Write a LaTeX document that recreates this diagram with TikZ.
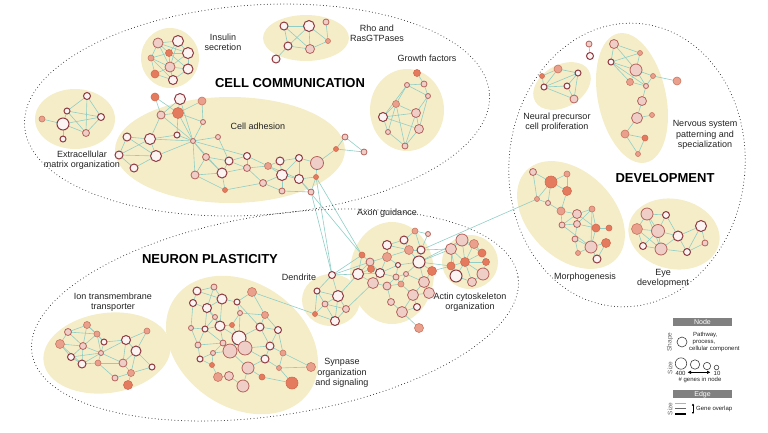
\documentclass[tikz,border=0pt]{standalone}
\usepackage{fontspec}
\setmainfont{Liberation Sans}
\usetikzlibrary{arrows.meta}
\pgfdeclarelayer{blob}\pgfdeclarelayer{edge}
\pgfsetlayers{blob,edge,main}
\definecolor{blobc}{HTML}{F5EDC8}
\definecolor{wfill}{HTML}{FCF3F3}
\definecolor{wdraw}{HTML}{8E3A40}
\definecolor{pfill}{HTML}{F0CEC8}
\definecolor{pdraw}{HTML}{B5625B}
\definecolor{sfill}{HTML}{E9A08C}
\definecolor{sdraw}{HTML}{CC7661}
\definecolor{rfill}{HTML}{E47B5E}
\definecolor{rdraw}{HTML}{D4694E}
\definecolor{edgec}{HTML}{8FCEC6}
\definecolor{txt}{HTML}{222222}
\definecolor{hdr}{HTML}{808080}
\newcommand\nd[5]{\node[#1,minimum size=#5*2pt] (#2) at (#3,#4) {};}
\newcommand\eds[1]{\begin{pgfonlayer}{edge}\foreach \ea/\eb in {#1} {\draw[edgel] (\ea) -- (\eb);}\end{pgfonlayer}}
\newcommand\blobe[5]{\begin{pgfonlayer}{blob}\fill[blobc, rotate around={#5:(#1,#2)}] (#1,#2) ellipse [x radius=#3pt, y radius=#4pt];\end{pgfonlayer}}
\tikzset{
  nb/.style={circle, inner sep=0pt, outer sep=0pt},
  wn/.style={nb, fill=wfill, draw=wdraw, line width=1pt},
  pn/.style={nb, fill=pfill, draw=pdraw, line width=0.8pt},
  sn/.style={nb, fill=sfill, draw=sdraw, line width=0.6pt},
  rn/.style={nb, fill=rfill, draw=rdraw, line width=0.6pt},
  edgel/.style={draw=edgec, line width=0.6pt},
  dotring/.style={draw=black!85, line width=1pt, line cap=round, dash pattern=on 0pt off 3.3pt},
  lbl/.style={align=center, text=txt, font=\fontsize{9}{10.3}\selectfont, inner sep=0pt},
  ttl/.style={text=black, font=\bfseries\fontsize{13}{15}\selectfont, inner sep=0pt},
  lgt/.style={text=txt, font=\fontsize{6}{6.6}\selectfont, inner sep=0pt, align=left},
  lgs/.style={text=black!60, font=\fontsize{6.5}{7}\selectfont, inner sep=0pt, rotate=90},
}
\begin{document}
\begin{tikzpicture}[x=1pt,y=-1pt]
\useasboundingbox (0,0) rectangle (768,432);
% ---------- cluster backgrounds
\blobe{170}{58}{29}{30}{0}
\blobe{306}{38}{43}{23}{0}
\blobe{407}{110}{37}{41}{0}
\blobe{75}{119}{40}{30}{0}
\blobe{230}{150}{115}{53}{0}
\blobe{562}{86}{31}{21}{30}
\blobe{632}{98}{34}{66}{12}
\blobe{571}{215}{63}{43}{-45}
\blobe{674}{234}{46}{35}{-12}
\blobe{107}{353}{64}{40}{8}
\blobe{242}{345}{82}{62}{-35}
\blobe{331}{300}{29}{26}{0}
\blobe{392}{273}{42}{51}{0}
\blobe{470}{262}{28}{27}{0}
% ---------- dotted group rings
\draw[dotring, rotate around={4:(257,110)}] (257,110) ellipse [x radius=233pt, y radius=105pt];
\draw[dotring, rotate around={9:(275,315)}] (275,315) ellipse [x radius=246pt, y radius=100pt];
\draw[dotring, rotate around={-5:(627,165)}] (627,165) ellipse [x radius=118pt, y radius=142pt];
% ---------- titles and labels
\node[ttl] (tcc) at (290,83) {CELL COMMUNICATION};
\node[ttl] (tnp) at (210,259) {NEURON PLASTICITY};
\node[ttl] (tdv) at (665,178) {DEVELOPMENT};
\node[lbl] (l1) at (223,42) {Insulin\\secretion};
\node[lbl] (l2) at (377,33) {Rho and\\RasGTPases};
\node[lbl] (l3) at (427,58) {Growth factors};
\node[lbl] (l4) at (258,126) {Cell adhesion};
\node[lbl] (l5) at (82,160) {Extracellular\\matrix organization};
\node[lbl] (l6) at (387,213) {Axon guidance};
\node[lbl] (l7) at (113,302) {Ion transmembrane\\transporter};
\node[lbl] (l8) at (299,277) {Dendrite};
\node[lbl] (l9) at (342,373) {Synpase\\organization\\and signaling};
\node[lbl] (l10) at (470,302) {Actin cytoskeleton\\organization};
\node[lbl] (l11) at (557,122) {Neural precursor\\cell proliferation};
\node[lbl] (l12) at (705,135) {Nervous system\\patterning and\\specialization};
\node[lbl] (l13) at (585,277) {Morphogenesis};
\node[lbl] (l14) at (663,278) {Eye\\development};
% ---------- Insulin secretion
\nd{pn}{I1}{158}{43}{5}\nd{wn}{I2}{178}{41}{5.5}\nd{rn}{I3}{169}{53}{3.5}
\nd{sn}{I4}{151}{58}{3}\nd{wn}{I5}{188}{53}{5.5}\nd{pn}{I6}{170}{67}{5}
\nd{wn}{I7}{188}{69}{5}\nd{rn}{I8}{155}{74}{4}\nd{wn}{I9}{173}{80}{4.5}
\eds{I1/I2,I1/I3,I1/I4,I1/I6,I2/I3,I2/I5,I3/I5,I3/I6,I3/I4,I4/I6,I4/I8,I5/I6,I5/I7,I6/I7,I6/I8,I6/I9,I7/I9,I8/I9,I3/I7,I1/I5,I2/I6,I4/I9}
% ---------- Cell adhesion upper
\nd{rn}{U1}{155}{97}{4}\nd{wn}{U2}{180}{99}{5.5}\nd{sn}{U3}{202}{101}{4}
\nd{pn}{U4}{161}{115}{4}\nd{rn}{U5}{178}{113}{5.5}\nd{pn}{U6}{203}{122}{2.5}
\nd{pn}{U7}{218}{137}{2.5}\nd{pn}{U8}{193}{141}{2.5}\nd{wn}{U9}{177}{135}{3}
\eds{U1/U4,U2/U5,U2/U4,U3/U5,U3/U6,U4/U5,U5/U6,U5/U8,U6/U8,U8/U7,U2/U8,U4/U8,U9/U8,U1/U5,U5/U9}
\nd{wn}{L1}{127}{137}{4}\nd{wn}{L2}{150}{139}{5.5}\nd{wn}{L3}{119}{155}{4}
\nd{wn}{L4}{156}{156}{5.5}\nd{wn}{L5}{134}{168}{4}
\eds{L1/L2,L1/L3,L1/L4,L2/L3,L2/L4,L3/L4,L3/L5,L4/L5,L2/U9,L2/U8,L4/U8,L2/U4}
\nd{pn}{B1}{195}{175}{4}\nd{pn}{B2}{206}{157}{3.5}\nd{wn}{B3}{222}{173}{5}
\nd{wn}{B4}{229}{161}{4}\nd{wn}{B5}{247}{156}{3.5}\nd{pn}{B6}{247}{168}{3.5}
\nd{rn}{B7}{225}{190}{2.5}\nd{pn}{B8}{263}{183}{3.5}\nd{sn}{B9}{268}{166}{3.5}
\nd{wn}{B10}{280}{161}{4}\nd{wn}{B11}{282}{175}{5.5}\nd{pn}{B12}{282}{191}{3}
\nd{wn}{B13}{299}{158}{3.5}\nd{wn}{B14}{299}{179}{4.5}\nd{pn}{B15}{311}{192}{3}
\nd{pn}{B16}{317}{163}{6.5}\nd{rn}{B17}{316}{177}{2.5}
\eds{U8/B2,U8/B1,U7/B4,U8/B3,B1/B2,B1/B3,B2/B3,B2/B4,B3/B4,B3/B6,B4/B5,B4/B6,B5/B6,B5/B9,B6/B8,B6/B9,B3/B7,B7/B8,B8/B11,B8/B12,B9/B10,B9/B11,B10/B11,B10/B13,B11/B14,B11/B12,B12/B15,B13/B14,B13/B16,B14/B15,B14/B17,B16/B17,B15/B17,B11/B13,B1/B7,B9/B14,U8/B5}
\nd{pn}{T1}{345}{137}{3}\nd{rn}{T2}{336}{149}{2.5}\nd{pn}{T3}{364}{152}{3}
\eds{T1/T2,T1/T3,T2/T3,T2/B16}
% ---------- ECM
\nd{wn}{E1}{87}{96}{3.5}\nd{wn}{E2}{67}{111}{3}\nd{wn}{E3}{101}{117}{3.5}
\nd{sn}{E4}{42}{119}{3}\nd{wn}{E5}{63}{124}{6}\nd{pn}{E6}{86}{133}{3.5}\nd{wn}{E7}{63}{139}{3}
\eds{E1/E2,E1/E3,E1/E6,E2/E3,E2/E5,E2/E6,E3/E5,E3/E6,E4/E5,E5/E6,E5/E7}
% ---------- Rho
\nd{wn}{R1}{284}{26}{4}\nd{wn}{R2}{309}{26}{5.5}\nd{pn}{R3}{326}{22}{3}
\nd{sn}{R4}{328}{41}{2.5}\nd{wn}{R5}{288}{46}{4}\nd{pn}{R6}{310}{49}{4.5}\nd{wn}{R7}{276}{59}{4}
\eds{R1/R2,R1/R5,R1/R6,R2/R5,R2/R6,R3/R4,R5/R6,R5/R7,R6/R4,R2/R4}
% ---------- Growth factors
\nd{rn}{G1}{417}{73}{3.5}\nd{pn}{G2}{424}{84}{3}\nd{pn}{G3}{407}{85}{2.5}
\nd{pn}{G4}{428}{96}{2.5}\nd{sn}{G5}{396}{104}{3.5}\nd{wn}{G6}{383}{117}{4.5}
\nd{pn}{G7}{416}{113}{4.5}\nd{pn}{G8}{419}{129}{4.5}\nd{pn}{G9}{388}{132}{2.5}\nd{pn}{G10}{405}{146}{3}
\eds{G1/G2,G2/G3,G3/G4,G2/G4,G3/G5,G4/G7,G5/G6,G5/G7,G5/G9,G5/G10,G6/G9,G6/G7,G7/G8,G6/G8,G8/G10,G9/G10,G7/G10,G3/G6,G4/G8}
% ---------- Neural precursor
\nd{sn}{N1}{558}{69}{4}\nd{rn}{N2}{542}{76}{2.5}\nd{wn}{N3}{578}{73}{3}
\nd{wn}{N4}{544}{87}{3}\nd{wn}{N5}{567}{86}{3}\nd{pn}{N6}{574}{99}{4}
\nd{pn}{N7}{589}{44}{3}\nd{wn}{N8}{590}{56}{3.5}
\eds{N1/N2,N1/N3,N2/N4,N1/N4,N3/N4,N3/N5,N4/N5,N3/N6,N5/N6,N7/N8,N4/N6}
% ---------- Nervous system
\nd{pn}{V1}{614}{44}{4.5}\nd{sn}{V2}{640}{53}{2.5}\nd{wn}{V3}{611}{62}{3}
\nd{pn}{V4}{636}{70}{6}\nd{sn}{V5}{653}{76}{2.5}\nd{sn}{V6}{630}{82}{3.5}
\nd{pn}{V7}{646}{86}{2.5}\nd{sn}{V8}{677}{81}{4}\nd{pn}{V9}{642}{101}{4.5}
\nd{pn}{V10}{637}{118}{5.5}\nd{sn}{V11}{652}{115}{2.5}\nd{sn}{V12}{625}{134}{4}
\nd{rn}{V13}{645}{138}{3}\nd{sn}{V14}{638}{154}{2.5}
\eds{V1/V2,V1/V3,V1/V4,V2/V3,V2/V4,V3/V4,V3/V6,V4/V5,V4/V6,V4/V7,V5/V7,V5/V8,V6/V7,V7/V9,V9/V10,V10/V11,V10/V12,V12/V13,V13/V14,V12/V14,V3/V7}
% ---------- Morphogenesis
\nd{pn}{M1}{533}{172}{3.5}\nd{rn}{M2}{551}{182}{6}\nd{sn}{M3}{567}{174}{3}
\nd{rn}{M4}{567}{191}{4.5}\nd{sn}{M5}{537}{199}{2.5}\nd{pn}{M6}{548}{203}{2.5}
\nd{sn}{M7}{561}{211}{4}\nd{pn}{M8}{577}{214}{4.5}\nd{sn}{M9}{592}{209}{3}
\nd{pn}{M10}{562}{225}{3}\nd{pn}{M11}{577}{224}{3.5}\nd{rn}{M12}{596}{228}{4}
\nd{rn}{M13}{609}{228}{3}\nd{pn}{M14}{575}{239}{3}\nd{pn}{M15}{591}{247}{6}
\nd{rn}{M16}{606}{243}{4.5}\nd{sn}{M17}{578}{253}{2.5}\nd{wn}{M18}{597}{259}{4}
\eds{M1/M2,M1/M5,M2/M3,M2/M4,M2/M5,M2/M6,M3/M4,M5/M6,M6/M7,M7/M8,M7/M10,M8/M9,M8/M10,M8/M11,M8/M12,M9/M12,M9/M11,M10/M11,M11/M12,M11/M14,M12/M13,M12/M15,M14/M15,M15/M16,M15/M17,M15/M18,M16/M18,M14/M17,M9/M15,M10/M15,M4/M7}
% ---------- Eye development
\nd{pn}{Y1}{647}{214}{6}\nd{wn}{Y2}{666}{215}{3.5}\nd{wn}{Y3}{701}{226}{5.5}
\nd{sn}{Y4}{637}{229}{5.5}\nd{pn}{Y5}{658}{231}{6.5}\nd{wn}{Y6}{678}{236}{5}
\nd{pn}{Y7}{705}{243}{3}\nd{wn}{Y8}{643}{246}{3.5}\nd{pn}{Y9}{661}{249}{6}\nd{wn}{Y10}{687}{252}{3.5}
\eds{Y1/Y2,Y1/Y4,Y1/Y5,Y1/Y9,Y2/Y5,Y2/Y6,Y4/Y5,Y4/Y8,Y4/Y9,Y5/Y6,Y5/Y8,Y5/Y9,Y6/Y3,Y6/Y9,Y6/Y10,Y3/Y7,Y7/Y10,Y8/Y9,Y9/Y10,Y3/Y10}
% ---------- Dendrite
\nd{wn}{D1}{332}{275}{3.5}\nd{wn}{D2}{317}{291}{3}\nd{wn}{D3}{338}{296}{5.5}
\nd{pn}{D4}{325}{304}{3}\nd{pn}{D5}{346}{309}{3.5}\nd{rn}{D6}{315}{314}{2.5}\nd{wn}{D7}{335}{321}{4.5}
\eds{D1/D2,D1/D3,D2/D3,D2/D4,D3/D4,D3/D5,D4/D6,D4/D7,D5/D7,D6/D7,D3/D7,D2/D6,D4/D5}
% ---------- Axon guidance
\nd{sn}{A1}{415}{231}{3}\nd{pn}{A2}{428}{234}{2.5}\nd{wn}{A3}{404}{240}{4}
\nd{wn}{A4}{387}{245}{4.5}\nd{sn}{A5}{409}{250}{4.5}\nd{wn}{A6}{421}{250}{4}
\nd{rn}{A7}{362}{255}{3}\nd{sn}{A8}{387}{257}{4.5}\nd{pn}{A9}{370}{262}{4}
\nd{wn}{A10}{419}{262}{6}\nd{wn}{A11}{398}{265}{2.5}\nd{rn}{A12}{371}{269}{3.5}
\nd{wn}{A13}{358}{274}{5.5}\nd{wn}{A14}{380}{273}{4.5}\nd{pn}{A15}{406}{274}{2.5}
\nd{rn}{A16}{432}{271}{4.5}\nd{pn}{A17}{396}{277}{3}\nd{pn}{A18}{373}{283}{5.5}
\nd{pn}{A19}{387}{286}{4}\nd{sn}{A20}{401}{284}{3}\nd{pn}{A21}{424}{282}{5.5}
\nd{pn}{A22}{413}{295}{5.5}\nd{pn}{A23}{429}{293}{5.5}\nd{pn}{A24}{391}{302}{3.5}
\nd{wn}{A25}{417}{307}{3.5}\nd{pn}{A26}{402}{312}{5.5}\nd{sn}{A27}{419}{328}{4.5}
\eds{A1/A2,A1/A3,A1/A6,A2/A6,A3/A5,A3/A4,A4/A8,A4/A5,A5/A6,A5/A10,A6/A10,A7/A9,A7/A13,A8/A9,A8/A11,A8/A14,A9/A12,A9/A13,A10/A11,A10/A15,A10/A16,A10/A21,A11/A14,A11/A17,A12/A13,A12/A14,A13/A18,A14/A17,A14/A18,A15/A17,A15/A20,A17/A19,A17/A20,A18/A19,A19/A24,A20/A22,A21/A22,A21/A23,A22/A23,A22/A25,A22/A26,A24/A26,A25/A26,A26/A27,A19/A20,A16/A21,A13/A14,A8/A5,A9/A14,A15/A21}
% ---------- Actin cytoskeleton
\nd{pn}{C1}{462}{240}{6}\nd{sn}{C2}{474}{244}{4.5}\nd{pn}{C3}{451}{249}{5.5}
\nd{rn}{C4}{482}{253}{4}\nd{rn}{C5}{465}{262}{4.5}\nd{rn}{C6}{451}{266}{4}
\nd{rn}{C7}{486}{262}{3.5}\nd{wn}{C8}{456}{276}{6}\nd{pn}{C9}{483}{274}{6}\nd{pn}{C10}{472}{282}{4.5}
\eds{C1/C2,C1/C3,C1/C5,C2/C4,C2/C5,C3/C5,C3/C6,C4/C5,C4/C7,C5/C6,C5/C7,C5/C8,C5/C9,C6/C8,C7/C9,C8/C10,C9/C10,C5/C10,C3/C8,C1/C4}
% ---------- Ion transmembrane transporter
\nd{sn}{J1}{87}{325}{3.5}\nd{pn}{J2}{68}{332}{3.5}\nd{sn}{J3}{97}{334}{3}
\nd{sn}{J4}{60}{344}{4.5}\nd{pn}{J5}{83}{346}{3.5}\nd{wn}{J6}{104}{342}{3}
\nd{wn}{J7}{126}{340}{4.5}\nd{sn}{J8}{147}{331}{3}\nd{wn}{J9}{71}{357}{3.5}
\nd{pn}{J10}{101}{353}{2.5}\nd{wn}{J11}{136}{351}{5}\nd{wn}{J12}{82}{364}{4}
\nd{sn}{J13}{98}{363}{3}\nd{pn}{J14}{123}{363}{4}\nd{wn}{J15}{152}{367}{3}
\nd{sn}{J16}{131}{373}{3.5}\nd{pn}{J17}{115}{378}{3}\nd{rn}{J18}{128}{385}{4.5}
\eds{J1/J2,J1/J3,J1/J5,J2/J4,J2/J5,J2/J3,J3/J5,J3/J6,J4/J5,J4/J9,J5/J9,J5/J10,J5/J12,J6/J7,J6/J10,J7/J11,J7/J8,J8/J11,J9/J12,J10/J13,J10/J14,J11/J14,J11/J15,J12/J13,J13/J14,J13/J17,J14/J16,J14/J7,J15/J16,J16/J17,J16/J18,J16/J11,J4/J12,J1/J6,J10/J7,J3/J10,J9/J10,J12/J10}
% ---------- Synapse organization and signaling
\nd{wn}{S1}{197}{291}{4}\nd{pn}{S2}{214}{287}{3}\nd{sn}{S3}{252}{292}{4.5}
\nd{wn}{S4}{193}{303}{3.5}\nd{wn}{S5}{222}{299}{5}\nd{wn}{S6}{237}{302}{3}
\nd{wn}{S7}{207}{308}{4.5}\nd{pn}{S8}{215}{317}{2.5}\nd{pn}{S9}{240}{313}{2.5}
\nd{sn}{S10}{265}{315}{3.5}\nd{wn}{S11}{220}{326}{5}\nd{rn}{S12}{232}{325}{2.5}
\nd{pn}{S13}{191}{328}{2.5}\nd{wn}{S14}{205}{329}{3}\nd{wn}{S15}{260}{327}{4}
\nd{wn}{S16}{278}{330}{3.5}\nd{wn}{S17}{239}{338}{7}\nd{pn}{S18}{223}{343}{3}
\nd{pn}{S19}{245}{348}{7}\nd{pn}{S20}{230}{351}{7}\nd{wn}{S21}{270}{346}{4}
\nd{pn}{S22}{198}{345}{3}\nd{pn}{S23}{213}{353}{2.5}\nd{sn}{S24}{283}{353}{3}
\nd{wn}{S25}{200}{359}{3}\nd{wn}{S26}{265}{359}{4}\nd{rn}{S27}{212}{365}{2.5}
\nd{pn}{S28}{248}{368}{6}\nd{sn}{S29}{279}{368}{2.5}\nd{sn}{S30}{311}{367}{4.5}
\nd{sn}{S31}{218}{377}{4.5}\nd{pn}{S32}{229}{376}{4.5}\nd{rn}{S33}{262}{377}{3}
\nd{rn}{S34}{292}{383}{6}\nd{pn}{S35}{243}{386}{6}
\eds{S1/S2,S1/S4,S1/S5,S2/S5,S4/S7,S5/S7,S5/S6,S5/S11,S6/S9,S3/S6,S3/S10,S7/S8,S7/S11,S8/S11,S8/S14,S9/S10,S9/S17,S10/S15,S10/S16,S11/S12,S11/S14,S11/S18,S12/S17,S13/S14,S13/S22,S14/S22,S14/S18,S15/S16,S15/S21,S15/S17,S16/S21,S16/S24,S17/S19,S17/S20,S18/S20,S18/S22,S18/S23,S19/S20,S19/S21,S19/S26,S20/S23,S20/S28,S21/S24,S21/S26,S22/S25,S23/S25,S23/S27,S24/S29,S24/S30,S26/S29,S26/S28,S28/S35,S28/S33,S29/S34,S29/S30,S31/S32,S32/S35,S27/S31,S25/S27,S33/S34,S11/S17,S4/S13,S7/S14,S2/S7,S6/S15,S9/S12}
% ---------- links between clusters
\eds{B17/D1,B15/D1,B17/A7,B14/A7,D1/A13,D1/A7,D1/A9,D3/A13,D5/A18,A6/M5,A10/C3,A10/C6,A16/C6,A6/C3,A10/C1,S3/D6}
% ---------- legend
\node[fill=hdr, minimum width=58.5pt, minimum height=8.5pt, inner sep=0pt, text=white, font=\fontsize{7}{7}\selectfont] (hn) at (702.5,322.2) {Node};
\node[lgs] (ls1) at (670,342) {Shape};
\node[nb, draw=black!75, line width=0.6pt, minimum size=10pt] (lc0) at (682,342) {};
\node[lgt, anchor=west] (lt0) at (689,342) {\hspace*{4pt}Pathway,\\\hspace*{3.5pt}process,\\cellular component};
\node[lgs] (ls2) at (670,368) {Size};
\node[nb, draw=black!75, line width=0.6pt, minimum size=11.4pt] (lc1) at (681,363.5) {};
\node[nb, draw=black!75, line width=0.6pt, minimum size=9.4pt] (lc2) at (695,364.5) {};
\node[nb, draw=black!75, line width=0.6pt, minimum size=7.4pt] (lc3) at (707,366) {};
\node[nb, draw=black!75, line width=0.6pt, minimum size=4.6pt] (lc4) at (716.5,367.5) {};
\coordinate (la) at (687.5,372.3);
\coordinate (lb) at (710.5,372.3);
\draw[{Latex[length=3.5pt,width=3.5pt]}-{Latex[length=3.5pt,width=3.5pt]}, line width=1pt] (la) -- (lb);
\node[lgt] (l400) at (680.5,373) {400};
\node[lgt] (l10) at (717,373) {10};
\node[lgt] (lgn) at (700,380) {\# genes in node};
\node[fill=hdr, minimum width=58.5pt, minimum height=8.5pt, inner sep=0pt, text=white, font=\fontsize{7}{7}\selectfont] (he) at (702.5,394.2) {Edge};
\node[lgs] (ls3) at (670,409) {Size};
\coordinate (e1a) at (675,403.5); \coordinate (e1b) at (686,403.5);
\coordinate (e2a) at (675,408.5); \coordinate (e2b) at (686,408.5);
\coordinate (e3a) at (675,414); \coordinate (e3b) at (686,414);
\draw[black!30, line width=0.6pt] (e1a) -- (e1b);
\draw[black!60, line width=0.9pt] (e2a) -- (e2b);
\draw[black, line width=1.4pt] (e3a) -- (e3b);
\coordinate (va) at (693,403.5); \coordinate (vb) at (693,414);
\draw[{Latex[length=2pt,width=2.5pt]}-{Latex[length=2pt,width=2.5pt]}, line width=0.7pt] (va) -- (vb);
\node[lgt, anchor=west] (lgo) at (696,409) {Gene overlap};
\end{tikzpicture}
\end{document}
